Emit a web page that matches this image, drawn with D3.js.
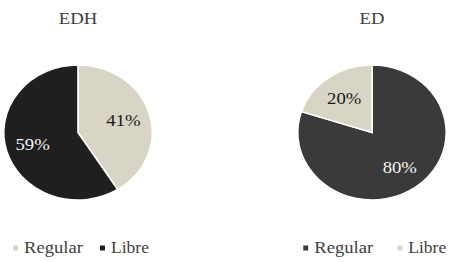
<!DOCTYPE html>
<html>
<head>
  <meta charset="utf-8">
  <title>EDH / ED pies</title>
  <script src="https://cdn.jsdelivr.net/npm/d3@7"></script>
  <style>
    body { margin: 0; background: #fff; }
  </style>
</head>
<body>
<svg id="chart"></svg>
<script>
  // data
  var chartTitles = ["EDH", "ED"];
  var categories = ["Regular", "Libre"];
  var edhValues = [41, 59];
  var edValues = [80, 20];

  var width = 450, height = 262;
  var light = "#d9d5c6";
  var serif = "'Liberation Serif', 'DejaVu Serif', 'Times New Roman', serif";

  var svg = d3.select("#chart")
      .attr("width", width)
      .attr("height", height)
      .style("font-family", serif);

  // the source image is stretched a bit horizontally
  var sx = 1.1;
  var radius = 67.5;
  // legend label widths (in the stretched group) so they fit like the source
  var legendTextWidth = [53.5, 34.5];

  var charts = [
    { title: chartTitles[0], values: edhValues, cx: 78,
      colors: [light, "#1f1f1f"], labelFill: ["#1a1a1a", "#f2f2f2"],
      legendX: [-59, 20] },
    { title: chartTitles[1], values: edValues, cx: 372,
      colors: ["#3a3a3a", light], labelFill: ["#f2f2f2", "#1a1a1a"],
      legendX: [-62.5, 23] }
  ];

  var pie = d3.pie().sort(null);
  var arc = d3.arc().innerRadius(0).outerRadius(radius);
  var labelArc = d3.arc().innerRadius(43).outerRadius(43);

  charts.forEach(function(c) {
    var g = svg.append("g")
        .attr("transform", "translate(" + c.cx + ",0) scale(" + sx + ",1)");

    g.append("text")
        .attr("x", 0)
        .attr("y", 24)
        .attr("text-anchor", "middle")
        .attr("font-family", serif)
        .attr("font-size", 17)
        .attr("fill", "#404040")
        .text(c.title);

    var pg = g.append("g").attr("transform", "translate(0,132.5)");
    var arcs = pie(c.values);

    pg.selectAll("path")
      .data(arcs)
      .join("path")
        .attr("d", arc)
        .attr("fill", function(d, i) { return c.colors[i]; })
        .attr("stroke", "#fff")
        .attr("stroke-width", 1.5);

    pg.selectAll("text")
      .data(arcs)
      .join("text")
        .attr("transform", function(d) { return "translate(" + labelArc.centroid(d) + ")"; })
        .attr("dy", "0.35em")
        .attr("text-anchor", "middle")
        .attr("font-family", serif)
        .attr("font-size", 17)
        .attr("fill", function(d, i) { return c.labelFill[i]; })
        .text(function(d) { return d.data + "%"; });

    // legend
    var lg = g.selectAll("g.legend")
      .data(categories)
      .join("g")
        .attr("class", "legend")
        .attr("transform", function(d, i) { return "translate(" + c.legendX[i] + ",0)"; });

    lg.append("rect")
        .attr("x", 0)
        .attr("y", 245.5)
        .attr("width", 4.5)
        .attr("height", 5)
        .attr("fill", function(d, i) { return c.colors[i]; });

    lg.append("text")
        .attr("x", 10)
        .attr("y", 253)
        .attr("font-family", serif)
        .attr("font-size", 17)
        .attr("fill", "#404040")
        .attr("textLength", function(d, i) { return legendTextWidth[i]; })
        .attr("lengthAdjust", "spacingAndGlyphs")
        .text(function(d) { return d; });
  });
</script>
</body>
</html>
